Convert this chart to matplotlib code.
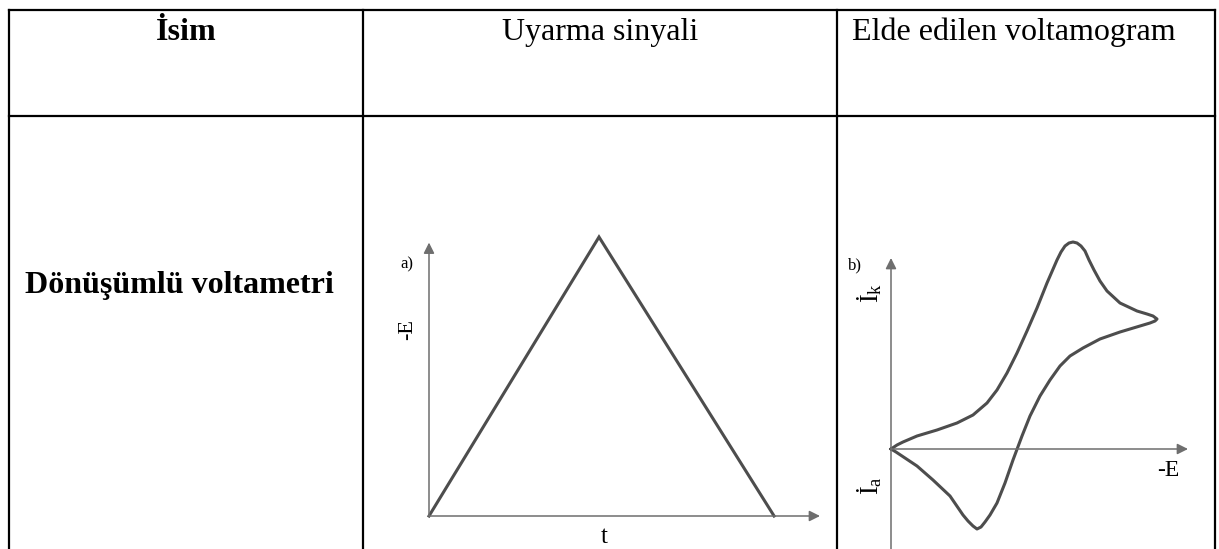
import matplotlib
matplotlib.use("Agg")
from matplotlib import pyplot as plt

plt.rcParams["font.family"] = ["Liberation Serif", "DejaVu Serif"]
plt.rcParams["mathtext.fontset"] = "custom"
plt.rcParams["mathtext.rm"] = "Liberation Serif"
plt.rcParams["mathtext.it"] = "Liberation Serif:italic"

W, H = 1219, 549

# tablo metinleri
basliklar = ["İsim", "Uyarma sinyali", "Elde edilen voltamogram"]
yontem = "Dönüşümlü voltametri"

# a) uyarma sinyali: üçgen dalga (t, -E)
t_sinyal = [0.0, 1.0, 2.03]
E_sinyal = [0.0, 1.0, 0.0]

# b) döngüsel voltamogram (-E, i), resimden okunan noktalar
E_ileri = [0.0, 0.06, 0.12, 0.26, 0.46, 0.66, 0.82, 0.96, 1.06, 1.16,
           1.26, 1.36, 1.46, 1.56, 1.66, 1.70, 1.74, 1.78, 1.82, 1.86,
           1.90, 1.94, 1.98, 2.03, 2.09, 2.16, 2.29, 2.46, 2.56, 2.62, 2.66]
I_ileri = [0.0, 0.04, 0.07, 0.13, 0.19, 0.26, 0.34, 0.46, 0.59, 0.76,
           0.96, 1.18, 1.41, 1.66, 1.89, 1.97, 2.03, 2.06, 2.07, 2.06,
           2.03, 1.98, 1.89, 1.79, 1.68, 1.58, 1.46, 1.38, 1.35, 1.33, 1.30]
E_geri = [2.64, 2.59, 2.49, 2.29, 2.09, 1.92, 1.79, 1.69, 1.59, 1.49,
          1.39, 1.31, 1.22, 1.14, 1.06, 0.99, 0.94, 0.90, 0.86, 0.82,
          0.77, 0.72, 0.59, 0.42, 0.26, 0.11, 0.05, 0.0]
I_geri = [1.28, 1.26, 1.23, 1.17, 1.10, 1.01, 0.93, 0.83, 0.69, 0.53,
          0.33, 0.13, -0.11, -0.34, -0.54, -0.66, -0.73, -0.78, -0.80, -0.77,
          -0.72, -0.66, -0.47, -0.31, -0.17, -0.07, -0.03, 0.0]

cizgi = "#4d4d4d"
eksen = "#6e6e6e"


def panel_ekle(fig, ox, oy, sx, sy, xlim, ylim):
    # piksel cinsinden orijin ve ölçekten eksen kutusu
    sol = ox + xlim[0] * sx
    sag = ox + xlim[1] * sx
    ust = oy - ylim[1] * sy
    alt = oy - ylim[0] * sy
    ax = fig.add_axes([sol / W, 1 - alt / H, (sag - sol) / W, (alt - ust) / H])
    ax.set_xlim(*xlim)
    ax.set_ylim(*ylim)
    ax.axis("off")
    return ax


def ok(ax, bas, son):
    ax.annotate("", xy=son, xytext=bas,
                arrowprops=dict(arrowstyle="-|>", color=eksen, lw=1.1,
                                mutation_scale=16, shrinkA=0, shrinkB=0),
                annotation_clip=False)


fig = plt.figure(figsize=(W / 100, H / 100), dpi=100)

# tablo çizgileri (piksel koordinatları)
tab = fig.add_axes([0, 0, 1, 1])
tab.set_xlim(0, W)
tab.set_ylim(H, 0)
tab.axis("off")
for y in [10, 116]:
    tab.plot([9, 1215], [y, y], color="black", lw=1.6, solid_capstyle="projecting")
for x in [9, 363, 837, 1215]:
    tab.plot([x, x], [10, H], color="black", lw=1.6, solid_capstyle="projecting")

tab.text(186, 40, basliklar[0], ha="center", va="baseline", fontsize=23, fontweight="bold")
tab.text(600, 40, basliklar[1], ha="center", va="baseline", fontsize=23)
tab.text(852, 40, basliklar[2], ha="left", va="baseline", fontsize=23)
tab.text(25, 293, yontem, ha="left", va="baseline", fontsize=23, fontweight="bold")

# a) uyarma sinyali
ax1 = panel_ekle(fig, 429, 516, 170, 279, (0, 2.35), (0, 1.05))
ok(ax1, (0, 0), (2.30, 0))
ok(ax1, (0, 0), (0, 0.98))
ax1.plot(t_sinyal, E_sinyal, color=cizgi, lw=2.2, clip_on=False,
         solid_joinstyle="miter")
tab.text(407, 264, "a)", ha="center", va="center", fontsize=12)
tab.text(408, 330, "-E", ha="center", va="center", fontsize=16, rotation=90)
tab.text(604, 537, "t", ha="center", va="center", fontsize=18)

# b) döngüsel voltamogram
ax2 = panel_ekle(fig, 891, 449, 100, 100, (0, 3.1), (-1.0, 2.3))
ok(ax2, (0, 0), (2.97, 0))
ok(ax2, (0, -1.0), (0, 1.91))
ax2.plot(E_ileri + E_geri, I_ileri + I_geri, color=cizgi, lw=2.2,
         clip_on=False, solid_joinstyle="round")
tab.text(855, 265, "b)", ha="center", va="center", fontsize=12)
tab.text(870, 293, "İ$_\\mathrm{k}$", ha="center", va="center", fontsize=19, rotation=90)
tab.text(870, 486, "İ$_\\mathrm{a}$", ha="center", va="center", fontsize=19, rotation=90)
tab.text(1168, 470, "-E", ha="center", va="center", fontsize=17)

fig.savefig("out.png", dpi=100)
